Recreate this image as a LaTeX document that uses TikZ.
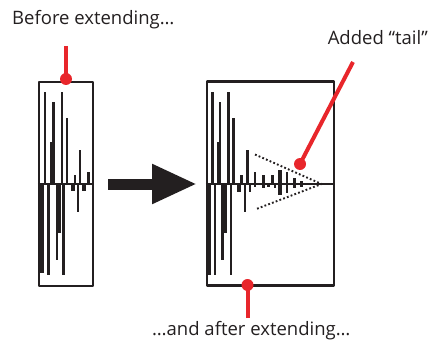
\documentclass[tikz,border=0pt]{standalone}
\usepackage{fontspec}
\setmainfont{Open Sans}
\usetikzlibrary{arrows.meta}

\definecolor{ink}{HTML}{231F20}
\definecolor{pinred}{HTML}{E8262B}

\begin{document}
\begin{tikzpicture}[x=1pt,y=-1pt,>=Stealth,line join=round]
  \useasboundingbox (0,0) rectangle (430,342);
  \tikzset{
    wavebox/.style={draw=ink,line width=2.3pt,minimum width=#1,minimum height=204pt,inner sep=0pt},
    spike/.style={ink,line width=2.5pt},
    fatspike/.style={ink,line width=4pt},
    pin/.style={pinred,line width=4pt,line cap=butt},
    pindot/.style={circle,fill=pinred,inner sep=0pt,minimum size=12pt},
    caption/.style={anchor=base west,inner sep=0pt,font=\fontsize{18.5}{22}\selectfont,text=ink},
    envelope/.style={ink,line width=1.9pt,dash pattern=on 1.8pt off 2.2pt}
  }
  % the two wave boxes
  \node[wavebox=54pt] (before) at (66,184) {};
  \node[wavebox=127pt] (after) at (270.5,183.5) {};
  \draw[spike] (before.west |- 0,184) -- (before.east |- 0,184);
  \draw[spike] (after.west |- 0,184) -- (after.east |- 0,184);

  % short wave
  \foreach \x/\t in {45/92,53.5/102,62/92,67/118,75/175,80/150,88.5/172}
    \draw[spike] (\x,184) -- (\x,\t);
  \foreach \x/\b in {48.5/275,57/260,63.5/275,78/212}
    \draw[spike] (\x,184) -- (\x,\b);
  \draw[fatspike] (42,184) -- (42,273);
  \draw[fatspike] (51.5,184) -- (51.5,142);
  \draw[fatspike] (58.5,184) -- (58.5,233);
  \draw[fatspike] (72.5,184) -- (72.5,191);
  \draw[fatspike] (83.5,184) -- (83.5,191);

  % extended wave
  \foreach \x/\t in {212.5/92,220/102,228.5/92,233.5/118,241.5/175,247.5/150,255/172,263.5/175,272.5/175,287/172,294.5/178,301.5/181}
    \draw[spike] (\x,184) -- (\x,\t);
  \foreach \x/\b in {215/275,222.5/260,231/275,245/212,250/192,255/187,263.5/188,268.5/187,275/188,287/193,294.5/188,301.5/187}
    \draw[spike] (\x,184) -- (\x,\b);
  \draw[fatspike] (208.5,184) -- (208.5,275);
  \draw[fatspike] (218.5,184) -- (218.5,142);
  \draw[fatspike] (225,184) -- (225,233);
  \draw[fatspike] (238.5,184) -- (238.5,192);
  \draw[fatspike] (279.5,170) -- (279.5,195);

  % tail envelope
  \coordinate (tip) at (321.5,184);
  \draw[envelope] (255,154.5) -- (tip) -- (255,209.5);

  % big arrow
  \draw[ink,line width=11pt,-{Triangle[length=45pt,width=37pt]}] (108,184) -- (197,184);

  % labels and pins
  \node[caption] (beforelabel) at (12,25) {Before extending…};
  \node[caption,anchor=base east] (taillabel) at (428,45) {Added “tail”};
  \node[caption] (afterlabel) at (152,335) {…and after extending…};

  \coordinate (beforepin) at (66,46);
  \coordinate (tailpin) at (353,62);
  \coordinate (afterpin) at (247.5,318);
  \node[pindot] (beforedot) at (66,79) {};
  \node[pindot] (taildot) at (300,164) {};
  \node[pindot] (afterdot) at (247.5,285) {};
  \draw[pin] (beforepin) -- (beforedot.center);
  \draw[pin] (tailpin) -- (taildot.center);
  \draw[pin] (afterpin) -- (afterdot.center);
\end{tikzpicture}
\end{document}
